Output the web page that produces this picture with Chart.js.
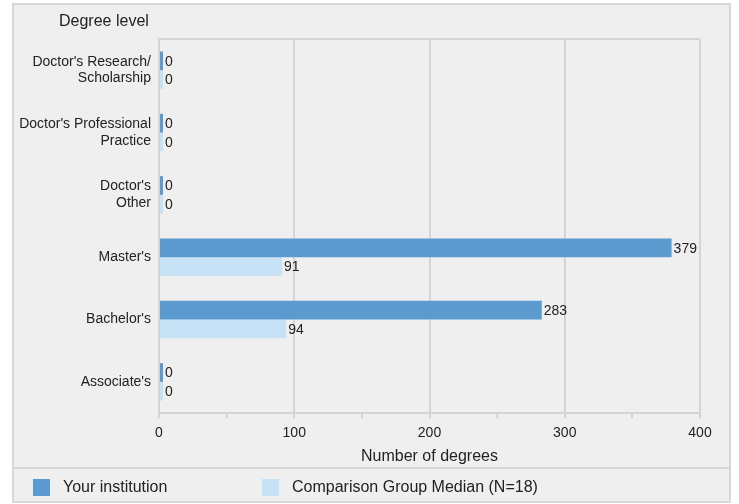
<!DOCTYPE html>
<html>
<head>
<meta charset="utf-8">
<script src="https://cdn.jsdelivr.net/npm/chart.js@4"></script>
<style>
html,body{margin:0;padding:0;background:#fff;}
#wrap{width:739px;height:504px;position:relative;}
</style>
</head>
<body>
<div id="wrap"><canvas id="c" width="739" height="504"></canvas></div>
<script>
const categories = [
  ["Doctor's Research/", "Scholarship"],
  ["Doctor's Professional", "Practice"],
  ["Doctor's", "Other"],
  ["Master's"],
  ["Bachelor's"],
  ["Associate's"]
];
const seriesNames = ["Your institution", "Comparison Group Median (N=18)"];
const yourInstitution = [0, 0, 0, 379, 283, 0];
const comparisonMedian = [0, 0, 0, 91, 94, 0];
const xTicks = [0, 100, 200, 300, 400];
const yAxisTitle = "Degree level";
const xAxisTitle = "Number of degrees";

const DARK = '#5B9BD0';
const LIGHT = '#C5E2F6';
const GRID = '#d4d4d4';
const FONT = "'Liberation Sans', Arial, sans-serif";

const framePlugin = {
  id: 'frame',
  beforeDraw(chart) {
    const ctx = chart.ctx;
    ctx.save();
    ctx.fillStyle = '#ffffff';
    ctx.fillRect(0, 0, chart.width, chart.height);
    ctx.fillStyle = '#efefef';
    ctx.fillRect(12, 3, 719, 500);
    ctx.strokeStyle = '#d8d8d8';
    ctx.lineWidth = 2;
    ctx.strokeRect(13, 4, 717, 498);
    ctx.beginPath();
    ctx.moveTo(13, 468);
    ctx.lineTo(730, 468);
    ctx.stroke();
    ctx.fillStyle = '#222';
    ctx.font = "16px " + FONT;
    ctx.textBaseline = 'middle';
    ctx.textAlign = 'left';
    ctx.fillText(yAxisTitle, 59, 22);
    ctx.restore();
  },
  afterDraw(chart) {
    const ctx = chart.ctx;
    ctx.save();
    ctx.font = "16px " + FONT;
    ctx.textBaseline = 'middle';
    ctx.textAlign = 'left';
    const pos = [[33, 63], [262, 292]];
    chart.data.datasets.forEach((ds, i) => {
      ctx.fillStyle = ds.backgroundColor;
      ctx.fillRect(pos[i][0], 479, 17, 17);
      ctx.fillStyle = '#222';
      ctx.fillText(ds.label, pos[i][1], 488);
    });
    ctx.restore();
  }
};

const labelPlugin = {
  id: 'valueLabels',
  afterDatasetsDraw(chart) {
    const ctx = chart.ctx;
    ctx.save();
    ctx.font = "14px " + FONT;
    ctx.fillStyle = '#222';
    ctx.textBaseline = 'middle';
    ctx.textAlign = 'left';
    chart.data.datasets.forEach((ds, di) => {
      const meta = chart.getDatasetMeta(di);
      meta.data.forEach((bar, i) => {
        const x = Math.max(bar.x, chart.chartArea.left + 2);
        ctx.fillText(String(ds.data[i]), x + 2, bar.y + 1);
      });
    });
    ctx.restore();
  }
};

new Chart(document.getElementById('c'), {
  type: 'bar',
  data: {
    labels: categories,
    datasets: [
      { label: seriesNames[0], data: yourInstitution, backgroundColor: DARK,
        categoryPercentage: 0.6, barPercentage: 1.0, minBarLength: 4, borderWidth: 0 },
      { label: seriesNames[1], data: comparisonMedian, backgroundColor: LIGHT,
        categoryPercentage: 0.6, barPercentage: 1.0, minBarLength: 4, borderWidth: 0 }
    ]
  },
  options: {
    indexAxis: 'y',
    responsive: false,
    animation: false,
    devicePixelRatio: 1,
    layout: { padding: { top: 39, right: 39, bottom: 36, left: 0 } },
    plugins: {
      legend: { display: false },
      tooltip: { enabled: false },
      title: { display: false }
    },
    scales: {
      x: {
        type: 'linear',
        min: xTicks[0],
        max: xTicks[xTicks.length - 1],
        afterFit(scale) { scale.height = 55; },
        afterBuildTicks(scale) {
          const t = [];
          for (let v = xTicks[0]; v <= xTicks[xTicks.length - 1]; v += 50) t.push({ value: v });
          scale.ticks = t;
        },
        ticks: {
          padding: 7,
          color: '#222',
          font: { family: FONT, size: 14 },
          maxRotation: 0,
          autoSkip: false,
          callback: (v) => (xTicks.includes(v) ? String(v) : '')
        },
        grid: {
          color: (ctx) => (ctx.tick && xTicks.includes(ctx.tick.value) ? GRID : 'rgba(0,0,0,0)'),
          tickColor: GRID,
          lineWidth: 2,
          tickLength: 5
        },
        border: { display: true, color: GRID, width: 2 },
        title: {
          display: true,
          text: xAxisTitle,
          color: '#222',
          font: { family: FONT, size: 16 },
          padding: { top: 0, bottom: 2 }
        }
      },
      y: {
        afterFit(scale) { scale.width = 159; },
        ticks: {
          padding: 8,
          color: '#222',
          font: { family: FONT, size: 14, lineHeight: 1.2 },
          autoSkip: false
        },
        grid: {
          drawTicks: false,
          lineWidth: 2,
          color: (ctx) => (ctx.index === 0 ? GRID : 'rgba(0,0,0,0)')
        },
        border: { display: true, color: GRID, width: 2 }
      }
    }
  },
  plugins: [framePlugin, labelPlugin]
});
</script>
</body>
</html>
